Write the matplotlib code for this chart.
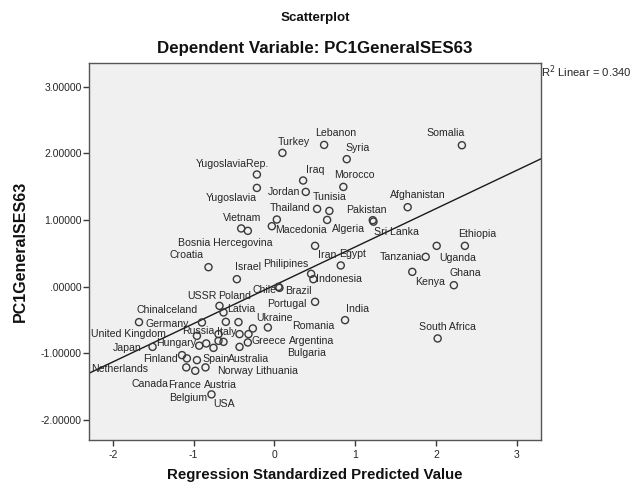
import matplotlib
matplotlib.use("Agg")
import matplotlib.pyplot as plt
from matplotlib.ticker import FuncFormatter, FixedLocator

plt.rcParams['font.family'] = ['Liberation Sans', 'DejaVu Sans']

# ---- data ----
countries = [
    "Somalia", "Lebanon", "Turkey", "Syria", "YugoslaviaRep.", "Iraq", "Morocco",
    "Yugoslavia", "Jordan", "Thailand", "Tunisia", "Algeria", "Pakistan", "Sri Lanka",
    "Afghanistan", "", "Macedonia", "Vietnam", "Bosnia Hercegovina", "Croatia",
    "Israel", "Iran", "Egypt", "Philipines", "Indonesia", "Chile", "Brazil",
    "Portugal", "India", "Tanzania", "Ethiopia", "Uganda", "Kenya", "Ghana",
    "South Africa",
    "USSR", "Latvia", "Poland", "China", "Iceland", "Germany", "Russia", "Italy",
    "Ukraine", "United Kingdom", "Hungary", "Japan", "Greece", "Argentina",
    "Romania", "Bulgaria", "Spain", "Australia", "Finland", "Netherlands",
    "Norway", "Lithuania", "Canada", "France", "Austria", "Belgium", "USA",
]
predicted = [
    2.321, 0.616, 0.100, 0.896, -0.216, 0.356, 0.854,
    -0.216, 0.389, 0.529, 0.681, 0.653, 1.218, 1.227,
    1.650, 0.031, -0.031, -0.410, -0.328, -0.815,
    -0.464, 0.504, 0.822, 0.455, 0.483, 0.051, 0.063,
    0.504, 0.875, 1.873, 2.358, 2.009, 1.707, 2.222,
    2.021,
    -0.679, -0.629, -0.444, -1.675, -0.896, -0.958, -0.691, -0.600,
    -0.080, -0.930, -0.843, -1.507, -0.328, -0.266,
    -0.431, -0.320, -0.753, -0.431, -1.143, -1.082,
    -0.691, -0.629, -1.090, -0.979, -0.852, -0.958, -0.778,
]
ses = [
    2.121, 2.126, 2.006, 1.912, 1.682, 1.592, 1.496,
    1.481, 1.421, 1.166, 1.136, 1.001, 0.997, 0.975,
    1.192, 1.007, 0.907, 0.873, 0.837, 0.292,
    0.112, 0.612, 0.318, 0.192, 0.112, -0.003, -0.018,
    -0.228, -0.502, 0.447, 0.612, 0.612, 0.222, 0.022,
    -0.777,
    -0.288, -0.387, -0.532, -0.532, -0.537, -0.738, -0.712, -0.528,
    -0.612, -0.885, -0.852, -0.903, -0.837, -0.627,
    -0.712, -0.712, -0.918, -0.903, -1.027, -1.076,
    -0.813, -0.828, -1.211, -1.262, -1.211, -1.102, -1.616,
]
fit_intercept = 0.02
fit_slope = 0.575
r_squared = 0.340

x_ticks = [-2, -1, 0, 1, 2, 3]
y_ticks = [-2, -1, 0, 1, 2, 3]

# label placement (pixel offsets from each point: layout only)
label_offsets = [
    (-35, 12), (-9, 12), (-5, 11), (-1, 11), (-61, 11), (3, 11), (-9, 12),
    (-51, -10), (-38, 0), (-47, 1), (-17, 14), (5, -9), (-27, 10), (1, -10),
    (-18, 12), (0, 0), (3, -4), (-18, 10), (-70, -12), (-39, 12),
    (-2, 12), (3, -9), (-2, 11), (-48, 10), (3, 0), (-26, -3), (6, -3),
    (-48, -2), (1, 11), (-46, 0), (-7, 12), (3, -12), (3, -10), (-4, 12),
    (-19, 11),
    (-32, 10), (4, 3), (-20, 26), (-2, 12), (-39, 12), (-51, 12), (-36, 3), (-9, -10),
    (-12, 9), (-108, 12), (-50, 0), (-40, -1), (4, 1), (36, -13),
    (53, 8), (39, -19), (-11, -11), (-12, -12), (-39, -4), (-96, -11),
    (-1, -30), (32, -29), (-55, -17), (-27, -14), (-2, -18), (-28, -38), (2, -10),
]

# ---- figure ----
fig = plt.figure(figsize=(6.34, 4.86), dpi=100)
ax = fig.add_axes([89.3 / 634, 46 / 486, (541 - 89.3) / 634, (440 - 63.3) / 486])
ax.set_facecolor('#f0f0f0')

ax.set_xlim(-2.29, 3.30)
ax.set_ylim(-2.30, 3.35)

ax.scatter(predicted, ses, s=26, facecolors='none', edgecolors='#3a3a3a',
           linewidths=1.0, zorder=3)

for name, xv, yv, off in zip(countries, predicted, ses, label_offsets):
    if name:
        ax.annotate(name, (xv, yv), xytext=off, textcoords='offset pixels',
                    ha='left', va='center', fontsize=7.6, color='#262626',
                    zorder=4)

xl = ax.get_xlim()
ax.plot(xl, [fit_intercept + fit_slope * v for v in xl], color='#1a1a1a',
        lw=1.0, zorder=2)

ax.xaxis.set_major_locator(FixedLocator(x_ticks))
ax.yaxis.set_major_locator(FixedLocator(y_ticks))


def yfmt(v, pos):
    s = f"{v:.5f}"
    if s.startswith("0."):
        s = s[1:]
    return s


ax.yaxis.set_major_formatter(FuncFormatter(yfmt))
ax.xaxis.set_major_formatter(FuncFormatter(lambda v, p: f"{int(round(v))}"))
ax.tick_params(axis='both', direction='out', length=4, width=1.0,
               color='#3a3a3a', labelsize=7.5, labelcolor='#262626', pad=1.5)
ax.tick_params(axis='x', pad=3.5)

for sp in ax.spines.values():
    sp.set_color('#555555')
    sp.set_linewidth(1.0)

fig.text(0.497, 1 - 18 / 486, "Scatterplot", ha='center', va='center',
         fontsize=9.6, fontweight='bold', color='#111111')
fig.text(0.497, 1 - 48 / 486, "Dependent Variable: PC1GeneralSES63",
         ha='center', va='center', fontsize=12.2, fontweight='bold', color='#111111')
fig.text(0.497, 1 - 475 / 486, "Regression Standardized Predicted Value",
         ha='center', va='center', fontsize=10.8, fontweight='bold', color='#111111')
fig.text(20 / 634, 1 - 251 / 486, "PC1GeneralSES63", ha='center', va='center',
         rotation=90, fontsize=11.5, fontweight='bold', color='#111111')
fig.text(541 / 634, 1 - 72 / 486, f"R$^2$ Linear = {r_squared:.3f}",
         ha='left', va='center', fontsize=8.1, color='#262626')

fig.savefig("out.png", dpi=100)
